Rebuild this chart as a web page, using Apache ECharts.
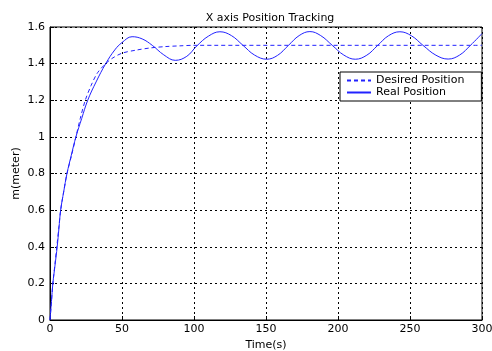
<!DOCTYPE html>
<html>
<head>
<meta charset="utf-8">
<script src="https://cdn.jsdelivr.net/npm/echarts@6/dist/echarts.min.js"></script>
<style>html,body{margin:0;padding:0;background:#fff;}#c{width:492px;height:351px;}</style>
</head>
<body>
<div id="c"></div>
<script>
var chartTitle = 'X axis Position Tracking';
var xName = 'Time(s)';
var yName = 'm(meter)';
var seriesNames = ['Desired Position', 'Real Position'];

var desiredTime = [0, 1, 2, 3.5, 5, 6.2, 7.4, 9.5, 11.8, 15, 18, 21, 24.5, 28.5, 33, 38.7, 43, 50, 60, 70, 80, 90, 100, 300];
var desiredPos  = [0, 0.1, 0.2, 0.31, 0.42, 0.51, 0.6, 0.7, 0.8, 0.9, 1.0, 1.1, 1.2, 1.28, 1.35, 1.4, 1.428, 1.457, 1.474, 1.486, 1.493, 1.497, 1.5, 1.5];

var realTime = [0, 1, 2, 3.5, 5, 6.2, 7.4, 9.5, 11.8, 14.8, 18, 22, 26.2, 32, 38.7, 45, 50, 57, 64, 71, 79, 87, 95, 102, 110, 118, 126, 134, 142, 150.5, 158, 165.5, 173, 180.5, 188, 196, 204, 212, 220, 227.5, 235, 243, 251, 259, 268, 276.5, 284.5, 292, 300];
var realPos  = [0, 0.1, 0.2, 0.3, 0.4, 0.5, 0.6, 0.7, 0.8, 0.9, 1.0, 1.1, 1.2, 1.3, 1.4, 1.475, 1.515, 1.547, 1.535, 1.5, 1.448, 1.418, 1.44, 1.497, 1.55, 1.574, 1.553, 1.5, 1.447, 1.424, 1.445, 1.499, 1.553, 1.575, 1.553, 1.5, 1.447, 1.424, 1.446, 1.499, 1.552, 1.574, 1.552, 1.5, 1.446, 1.425, 1.447, 1.5, 1.564];

function pairs(xs, ys) { return xs.map(function (x, i) { return [x, ys[i]]; }); }

var FONT = '"DejaVu Sans", Arial, sans-serif';
var chart = echarts.init(document.getElementById('c'), null, { renderer: 'canvas' });
chart.setOption({
  animation: false,
  backgroundColor: '#fff',
  title: {
    text: chartTitle, left: 265, top: 8, textAlign: 'center',
    textStyle: { fontFamily: FONT, fontSize: 11, fontWeight: 'normal', color: '#000' }
  },
  grid: {
    left: 50, right: 10, top: 27, bottom: 31, containLabel: false, outerBoundsMode: 'none',
    show: true, borderColor: '#000', borderWidth: 1, backgroundColor: 'transparent'
  },
  legend: {
    orient: 'vertical', left: 340, top: 72,
    backgroundColor: '#fff', borderColor: '#000', borderWidth: 1, borderRadius: 0,
    padding: [3, 17, 3, 6], itemGap: 1, itemWidth: 24, itemHeight: 12,
    itemStyle: { opacity: 0 },
    textStyle: { fontFamily: FONT, fontSize: 11, color: '#000' },
    data: seriesNames
  },
  xAxis: {
    type: 'value', min: 0, max: 300, interval: 50,
    name: xName, nameLocation: 'middle', nameGap: 17,
    nameTextStyle: { fontFamily: FONT, fontSize: 11, color: '#000' },
    axisLine: { show: true, onZero: false, lineStyle: { color: '#000', width: 1 } },
    axisTick: { show: true, inside: true, length: 4, lineStyle: { color: '#000' } },
    axisLabel: { fontFamily: FONT, fontSize: 11, color: '#000', margin: 4 },
    splitLine: { show: true, lineStyle: { color: '#000', type: [2, 3], width: 1 } }
  },
  yAxis: {
    type: 'value', min: 0, max: 1.6, interval: 0.2,
    name: yName, nameLocation: 'middle', nameGap: 28, nameMoveOverlap: false,
    nameTextStyle: { fontFamily: FONT, fontSize: 11, color: '#000' },
    axisLine: { show: true, onZero: false, lineStyle: { color: '#000', width: 1 } },
    axisTick: { show: true, inside: true, length: 4, lineStyle: { color: '#000' } },
    axisLabel: { fontFamily: FONT, fontSize: 11, color: '#000', margin: 5 },
    splitLine: { show: true, lineStyle: { color: '#000', type: [2, 3], width: 1 } }
  },
  series: [
    {
      name: seriesNames[0], type: 'line', data: pairs(desiredTime, desiredPos),
      showSymbol: false, symbol: 'none', smooth: 0.3,
      lineStyle: { color: '#2222ff', width: 1, type: [4, 3] }, itemStyle: { color: '#2222ff' }
    },
    {
      name: seriesNames[1], type: 'line', data: pairs(realTime, realPos),
      showSymbol: false, symbol: 'none', smooth: 0.4,
      lineStyle: { color: '#2222ff', width: 1 }, itemStyle: { color: '#2222ff' }
    }
  ]
});
</script>
</body>
</html>
